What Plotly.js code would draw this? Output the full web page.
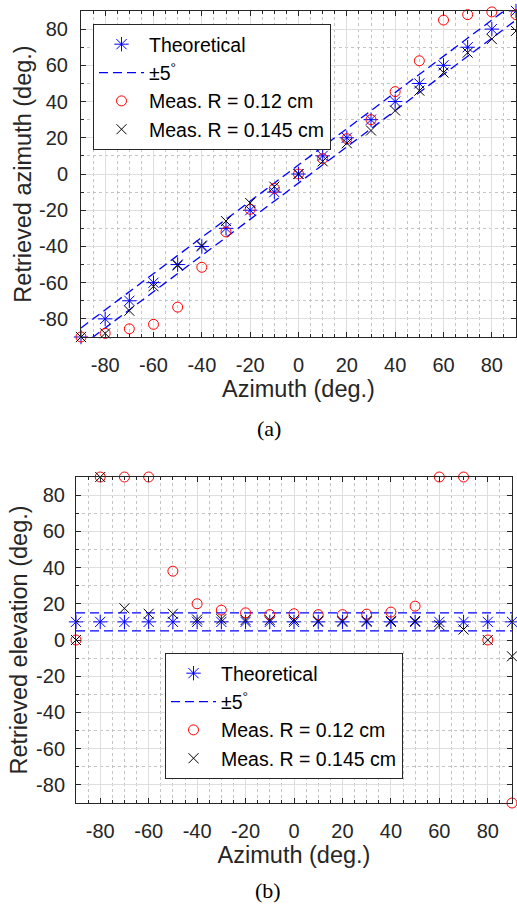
<!DOCTYPE html>
<html>
<head>
<meta charset="utf-8">
<script src="https://cdn.plot.ly/plotly-3.0.1.min.js"></script>
<style>html,body{margin:0;padding:0;background:#fff;}#chart{width:517px;height:909px;}</style>
</head>
<body>
<div id="chart"></div>
<script>
// ---- data ----
const azimuth = [-90,-80,-70,-60,-50,-40,-30,-20,-10,0,10,20,30,40,50,60,70,80,90];
// (a) retrieved azimuth
const azTheory = [-90,-80,-70,-60,-50,-40,-30,-20,-10,0,10,20,30,40,50,60,70,80,90];
const azMeas012 = [-90,-88,-85.5,-83,-73.5,-51.5,-32,-19.5,-8,0,8.5,19.5,30,45.5,62.5,85,88,89.5,88];
const azMeas0145 = [-90,-88,-75.5,-62,-50.5,-39.5,-26,-16,-7,0,7,17,24,35,46,56,67,74.5,79];
const azBoundX = [-90, 90, null, -90, 90];
const azBoundY = [-85, 95, null, -95, 85];
// (b) retrieved elevation
const elTheory = [10,10,10,10,10,10,10,10,10,10,10,10,10,10,10,10,10,10,10];
const elMeas012 = [0,90,90,90,38,20,16.5,15,14,14.5,14,14,14.3,15.4,18.7,90,90,0,-90];
const elMeas0145 = [0,90,17.5,14.5,14.5,11.3,11.5,11,11,11,10.5,10.5,10.5,10.5,10.5,8.2,5.8,0,-9];
const elBoundX = [-90, 90, null, -90, 90];
const elBoundY = [15, 15, null, 5, 5];
// tick labels
const tickVals = [-80,-60,-40,-20,0,20,40,60,80];
const tickText = ['-80','-60','-40','-20','0','20','40','60','80'];
const names = ['Theoretical', '\u00b15<sup>\u00b0</sup>', 'Meas. R = 0.12 cm', 'Meas. R = 0.145 cm'];

// ---- layout helpers ----
const W = 517, H = 909;
const fx = p => p / W;
const fy = p => 1 - p / H;
const FONT = 'Liberation Sans, Arial, Helvetica, sans-serif';
const AX = '#262626';

function series(xa, ya, leg, theory, bx, by, m1, m2) {
  return [
    {x: azimuth, y: theory, xaxis: xa, yaxis: ya, legend: leg, name: names[0], legendgroup: leg+'a',
     mode: 'markers', type: 'scatter', cliponaxis: false,
     marker: {symbol: 'asterisk-open', size: 12, color: '#0000ff', line: {color: '#0000ff', width: 1}}},
    {x: bx, y: by, xaxis: xa, yaxis: ya, legend: leg, name: names[1], legendgroup: leg+'b',
     mode: 'lines', type: 'scatter', connectgaps: false,
     line: {color: '#0000ff', width: 1.3, dash: '9px,5px'}},
    {x: azimuth, y: m1, xaxis: xa, yaxis: ya, legend: leg, name: names[2], legendgroup: leg+'c',
     mode: 'markers', type: 'scatter', cliponaxis: false,
     marker: {symbol: 'circle-open', size: 10, color: '#ff0000', line: {color: '#ff0000', width: 1}}},
    {x: azimuth, y: m2, xaxis: xa, yaxis: ya, legend: leg, name: names[3], legendgroup: leg+'d',
     mode: 'markers', type: 'scatter', cliponaxis: false,
     marker: {symbol: 'x-thin-open', size: 10, color: '#000000', line: {color: '#000000', width: 1}}}
  ];
}

const data = [].concat(
  series('x', 'y', 'legend', azTheory, azBoundX, azBoundY, azMeas012, azMeas0145),
  series('x2', 'y2', 'legend2', elTheory, elBoundX, elBoundY, elMeas012, elMeas0145)
);

function axis(dom, anchor, minorStep, title, standoff, lblOff) {
  return {
    domain: dom, anchor: anchor, range: [-90, 90], autorange: false,
    tickmode: 'array', tickvals: tickVals, ticktext: tickText,
    ticks: 'inside', ticklen: 5, tickcolor: AX, tickwidth: 1,
    showline: true, linecolor: AX, linewidth: 1, mirror: 'ticks',
    showgrid: true, gridcolor: '#dedede', gridwidth: 1, zeroline: false,
    minor: {dtick: minorStep, tick0: 0, ticks: 'inside', ticklen: 3, tickcolor: AX,
            showgrid: true, gridcolor: '#c4c4c4', griddash: 'dot', gridwidth: 1},
    tickfont: {family: FONT, size: 20, color: AX},
    ticklabelstandoff: lblOff,
    title: {text: title, font: {family: FONT, size: 23.5, color: AX}, standoff: standoff},
    automargin: false, fixedrange: true
  };
}

const legendBase = {
  xanchor: 'left', yanchor: 'top', bgcolor: '#ffffff', bordercolor: AX, borderwidth: 1,
  font: {family: FONT, size: 19.5, color: '#000000'}, itemwidth: 45, traceorder: 'normal',
  itemclick: false, itemdoubleclick: false
};

const layout = {
  width: W, height: H, margin: {l: 0, r: 0, t: 0, b: 0}, autosize: false,
  paper_bgcolor: '#ffffff', plot_bgcolor: '#ffffff', showlegend: true,
  font: {family: FONT, color: AX},
  xaxis: axis([fx(81), fx(516)], 'y', 5, 'Azimuth (deg.)', 5, 10),
  yaxis: axis([fy(337), fy(11)], 'x', 10, 'Retrieved azimuth (deg.)', 0, 8),
  xaxis2: axis([fx(76), fx(512)], 'y2', 5, 'Azimuth (deg.)', 5, 10),
  yaxis2: axis([fy(803), fy(477)], 'x2', 10, 'Retrieved elevation (deg.)', 1, 6),
  legend: Object.assign({}, legendBase, {x: fx(93), y: fy(24), tracegroupgap: 2}),
  legend2: Object.assign({}, legendBase, {x: fx(165), y: fy(653), tracegroupgap: 8}),
  annotations: [
    {text: '(a)', xref: 'paper', yref: 'paper', x: fx(269), y: fy(428), xanchor: 'center', yanchor: 'middle',
     showarrow: false, font: {family: 'Liberation Serif, Times New Roman, serif', size: 22, color: '#000000'}},
    {text: '(b)', xref: 'paper', yref: 'paper', x: fx(268), y: fy(890), xanchor: 'center', yanchor: 'middle',
     showarrow: false, font: {family: 'Liberation Serif, Times New Roman, serif', size: 22, color: '#000000'}}
  ]
};

Plotly.newPlot('chart', data, layout, {staticPlot: true, displayModeBar: false});
</script>
</body>
</html>
